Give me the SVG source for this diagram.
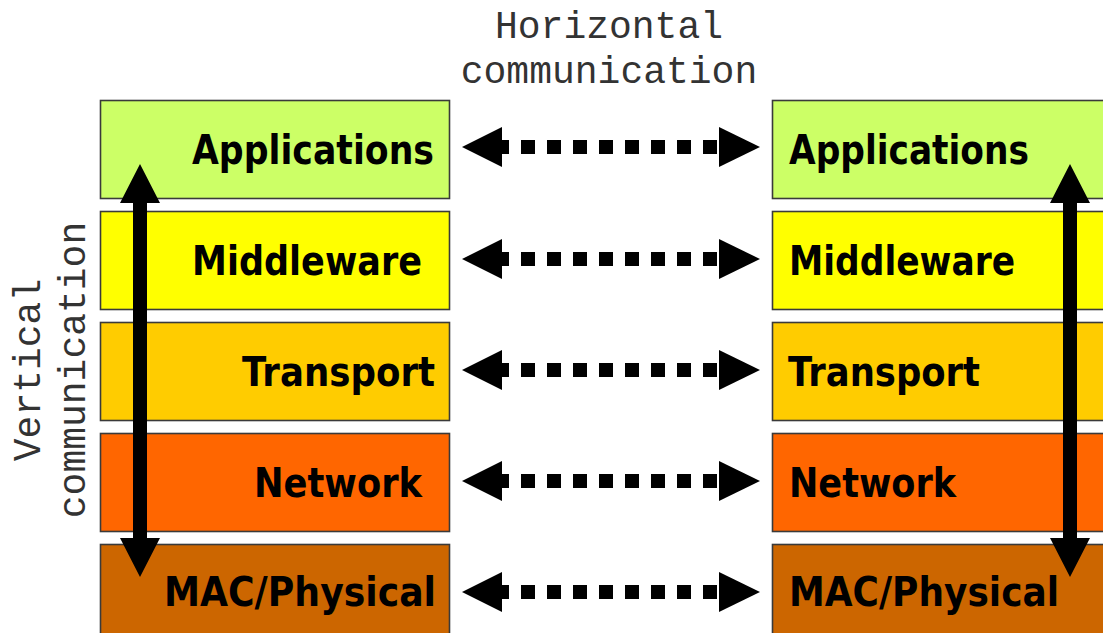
<svg xmlns="http://www.w3.org/2000/svg" xmlns:xlink="http://www.w3.org/1999/xlink" width="1103" height="633" viewBox="0 0 1103 633">
<style>
.box{stroke:#3a3a3a;stroke-width:1.6}
.lbl{font-family:"DejaVu Sans",Verdana,sans-serif;font-weight:bold;font-size:40px;fill:#000}
.cap{font-family:"Liberation Mono","Courier New",monospace;font-size:38px;fill:#333;text-anchor:middle}
.app{fill:#CCFF66}.mid{fill:#FFFF00}.tra{fill:#FFCC00}.net{fill:#FF6600}.mac{fill:#CC6600}
</style>
<defs>
<g id="harrow">
<polygon points="462,0 502,-20 502,20" fill="#000"/>
<polygon points="760,0 719,-20 719,20" fill="#000"/>
<line x1="502" y1="0" x2="719" y2="0" stroke="#000" stroke-width="14" stroke-dasharray="14 12" stroke-dashoffset="7"/>
</g>
</defs>
<rect width="1103" height="633" fill="#fff"/>
<g id="left-applications"><rect class="box app" x="100.5" y="100.5" width="349" height="98"/><text class="lbl" x="192" y="164" textLength="242" lengthAdjust="spacingAndGlyphs">Applications</text></g>
<g id="left-middleware"><rect class="box mid" x="100.5" y="211.5" width="349" height="98"/><text class="lbl" x="192" y="275" textLength="230" lengthAdjust="spacingAndGlyphs">Middleware</text></g>
<g id="left-transport"><rect class="box tra" x="100.5" y="322.5" width="349" height="98"/><text class="lbl" x="242" y="386" textLength="193" lengthAdjust="spacingAndGlyphs">Transport</text></g>
<g id="left-network"><rect class="box net" x="100.5" y="433.5" width="349" height="98"/><text class="lbl" x="254" y="497" textLength="168" lengthAdjust="spacingAndGlyphs">Network</text></g>
<g id="left-mac"><rect class="box mac" x="100.5" y="544.5" width="349" height="100"/><text class="lbl" x="164" y="606" textLength="272" lengthAdjust="spacingAndGlyphs">MAC/Physical</text></g>
<g id="right-applications"><rect class="box app" x="772.5" y="100.5" width="340" height="98"/><text class="lbl" x="789" y="164" textLength="240" lengthAdjust="spacingAndGlyphs">Applications</text></g>
<g id="right-middleware"><rect class="box mid" x="772.5" y="211.5" width="340" height="98"/><text class="lbl" x="789" y="275" textLength="226" lengthAdjust="spacingAndGlyphs">Middleware</text></g>
<g id="right-transport"><rect class="box tra" x="772.5" y="322.5" width="340" height="98"/><text class="lbl" x="788" y="386" textLength="192" lengthAdjust="spacingAndGlyphs">Transport</text></g>
<g id="right-network"><rect class="box net" x="772.5" y="433.5" width="340" height="98"/><text class="lbl" x="789" y="497" textLength="167" lengthAdjust="spacingAndGlyphs">Network</text></g>
<g id="right-mac"><rect class="box mac" x="772.5" y="544.5" width="340" height="100"/><text class="lbl" x="789" y="606" textLength="270" lengthAdjust="spacingAndGlyphs">MAC/Physical</text></g>
<g id="connectors">
<use xlink:href="#harrow" transform="translate(0,147)"/>
<use xlink:href="#harrow" transform="translate(0,259)"/>
<use xlink:href="#harrow" transform="translate(0,370)"/>
<use xlink:href="#harrow" transform="translate(0,481)"/>
<use xlink:href="#harrow" transform="translate(0,592)"/>
<polygon points="140,164 160,203 147,203 147,538 160,538 140,577 120,538 133,538 133,203 120,203" fill="#000"/>
<polygon points="1070,164 1090,203 1077,203 1077,538 1090,538 1070,577 1050,538 1063,538 1063,203 1050,203" fill="#000"/>
</g>
<g id="captions">
<text class="cap" x="609" y="38">Horizontal</text>
<text class="cap" x="609" y="83">communication</text>
<text class="cap" transform="translate(40,370) rotate(-90)" x="0" y="0">Vertical</text>
<text class="cap" transform="translate(85,370) rotate(-90)" x="0" y="0">communication</text>
</g>
</svg>
